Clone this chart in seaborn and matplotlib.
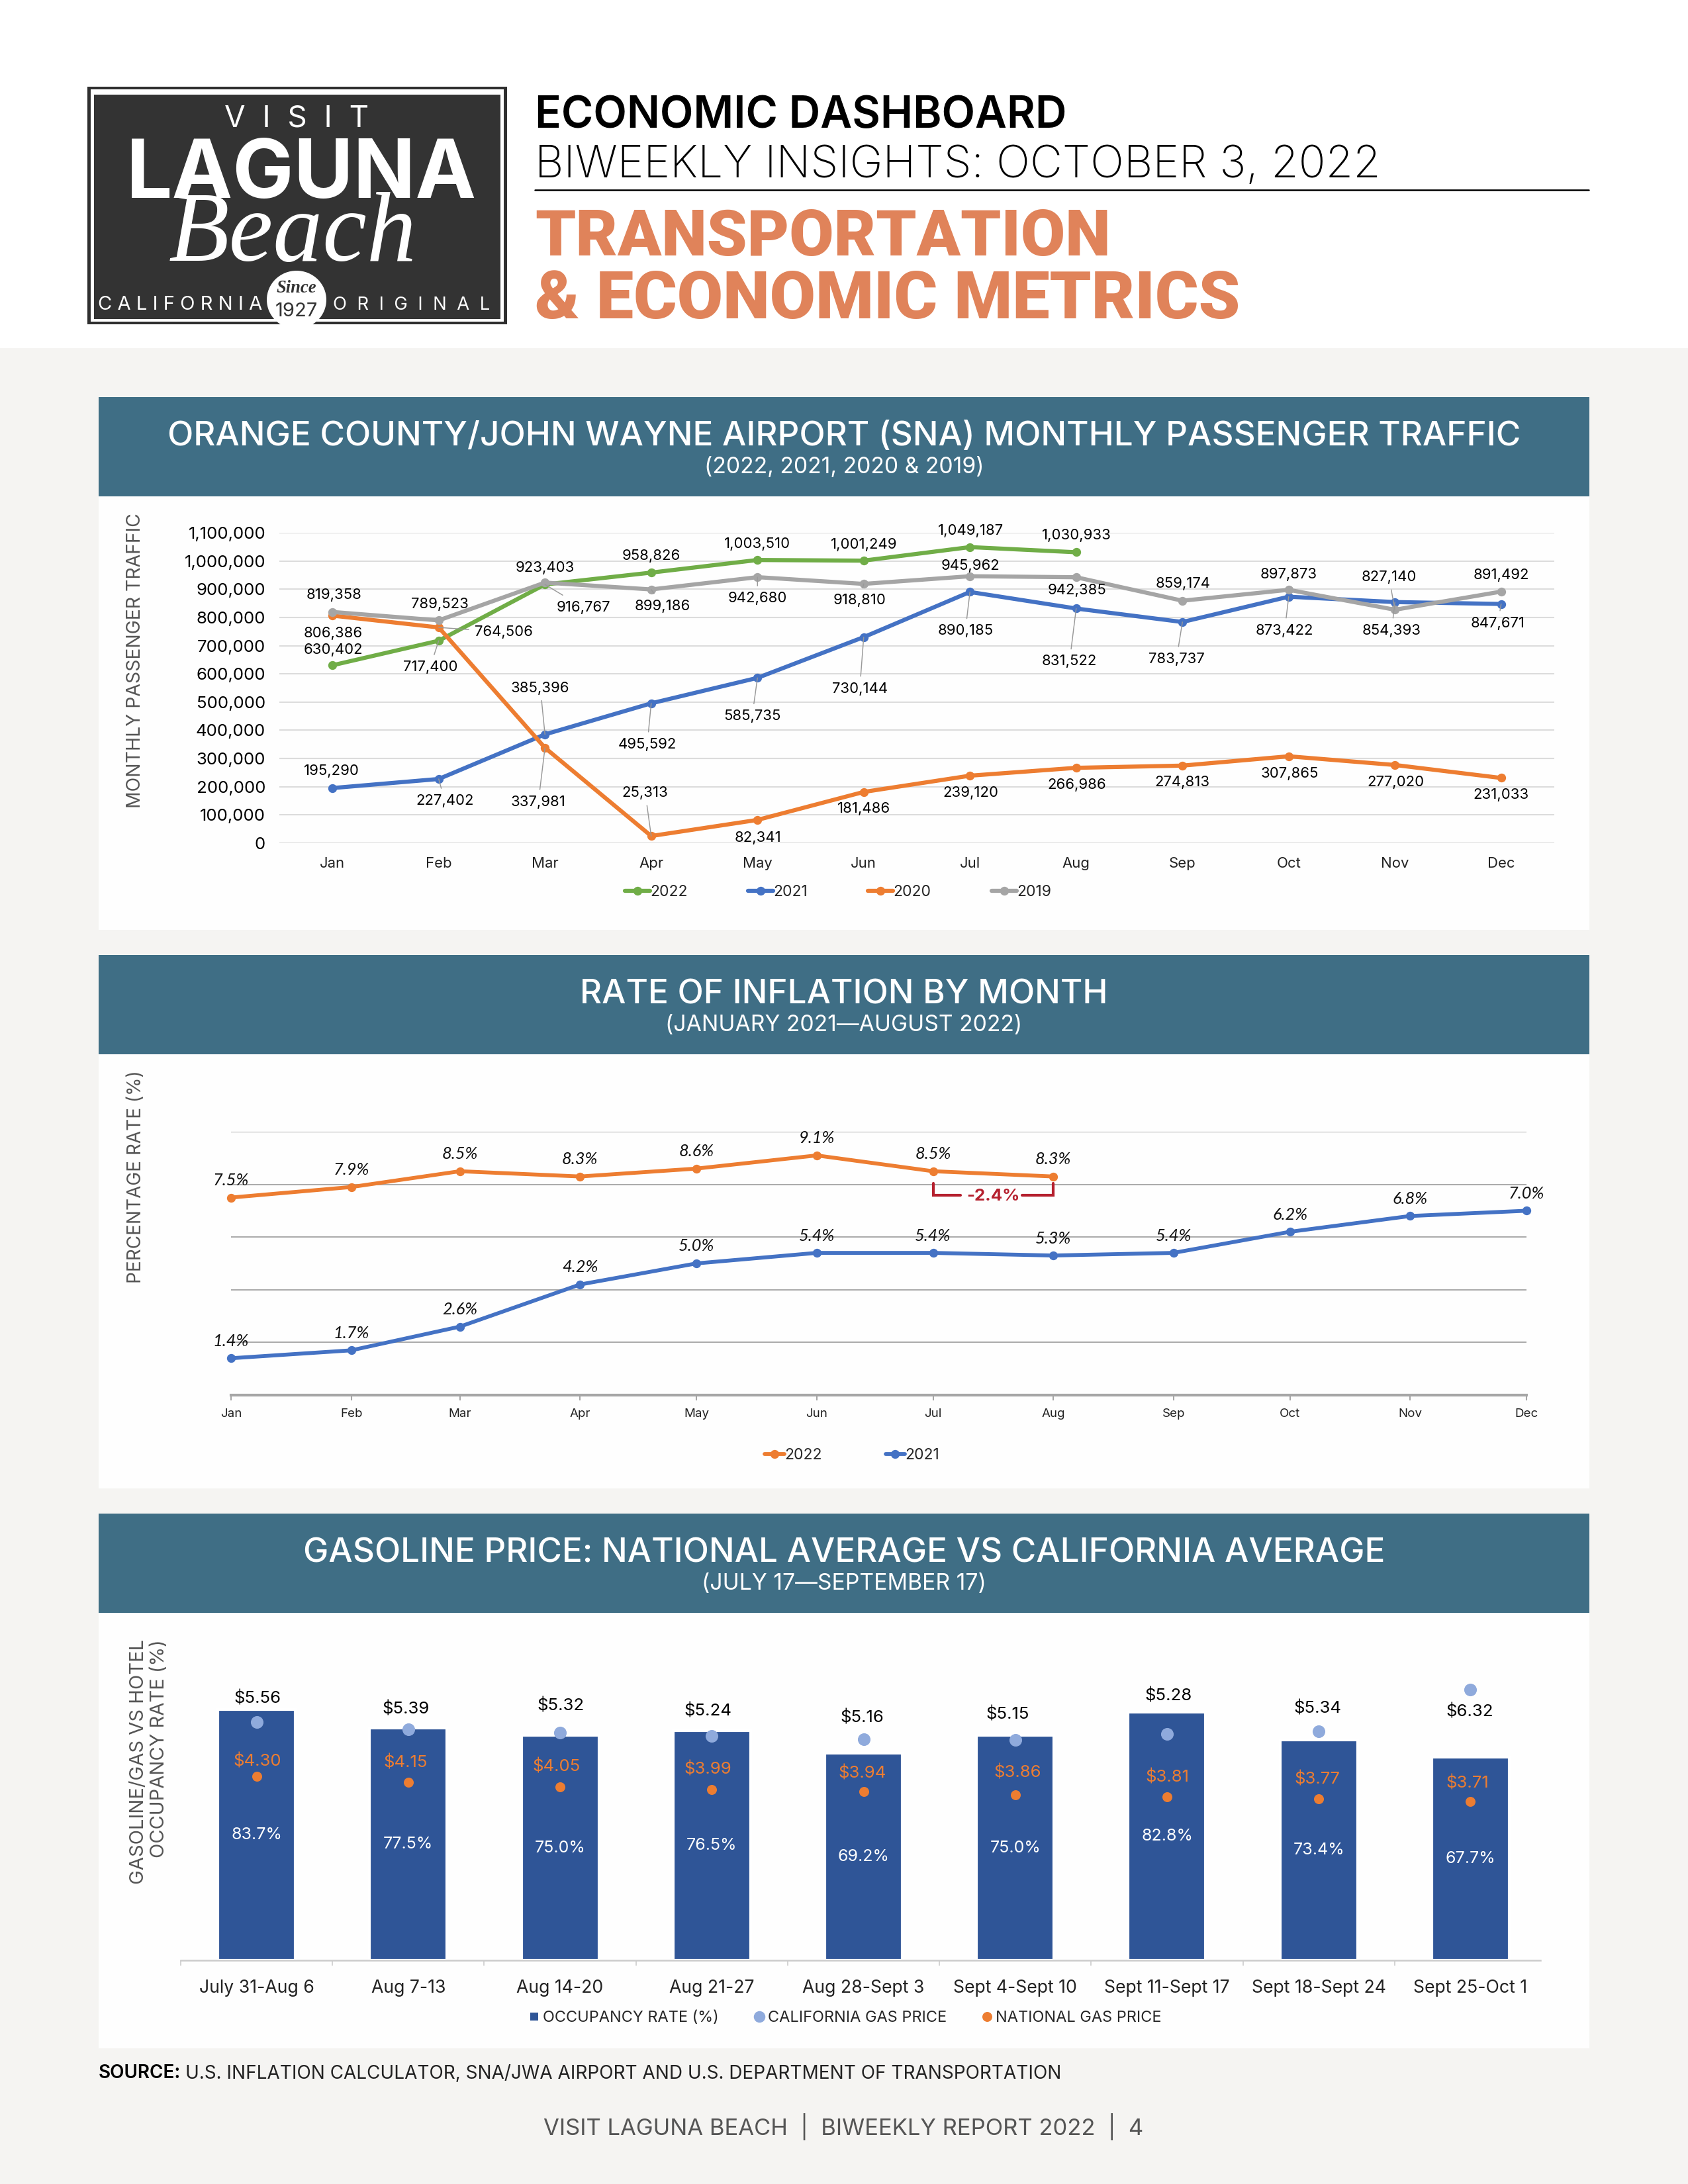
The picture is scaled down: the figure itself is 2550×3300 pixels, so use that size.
import matplotlib
matplotlib.use('Agg')
import matplotlib.pyplot as plt
from matplotlib.lines import Line2D
from matplotlib.patches import Ellipse, Rectangle
import numpy as np
import pandas as pd
import seaborn as sns

# monthly passenger traffic
months = ['Jan', 'Feb', 'Mar', 'Apr', 'May', 'Jun', 'Jul', 'Aug', 'Sep', 'Oct', 'Nov', 'Dec']
traffic_2022 = [630402, 717400, 916767, 958826, 1003510, 1001249, 1049187, 1030933]
traffic_2021 = [195290, 227402, 385396, 495592, 585735, 730144, 890185, 831522, 783737, 873422, 854393, 847671]
traffic_2020 = [806386, 764506, 337981, 25313, 82341, 181486, 239120, 266986, 274813, 307865, 277020, 231033]
traffic_2019 = [819358, 789523, 923403, 899186, 942680, 918810, 945962, 942385, 859174, 897873, 827140, 891492]

# inflation
inflation_2022 = [7.5, 7.9, 8.5, 8.3, 8.6, 9.1, 8.5, 8.3]
inflation_2021 = [1.4, 1.7, 2.6, 4.2, 5.0, 5.4, 5.4, 5.3, 5.4, 6.2, 6.8, 7.0]

# gas and occupancy
weeks = ['July 31-Aug 6', 'Aug 7-13', 'Aug 14-20', 'Aug 21-27', 'Aug 28-Sept 3', 'Sept 4-Sept 10',
         'Sept 11-Sept 17', 'Sept 18-Sept 24', 'Sept 25-Oct 1']
occupancy = [83.7, 77.5, 75.0, 76.5, 69.2, 75.0, 82.8, 73.4, 67.7]
california_gas = [5.56, 5.39, 5.32, 5.24, 5.16, 5.15, 5.28, 5.34, 6.32]
national_gas = [4.30, 4.15, 4.05, 3.99, 3.94, 3.86, 3.81, 3.77, 3.71]

# label offsets from the points, in pixels (dx, dy up), last value 1 = leader line
offsets_2022 = [(1, 23, 0), (-13, -40, 1), (58, -35, 1), (0, 25, 0), (0, 24, 0), (0, 24, 0), (1, 25, 0), (1, 25, 0)]
offsets_2021 = [(-1, 26, 0), (9, -33, 1), (-7, 70, 1), (-6, -62, 1), (-8, -58, 1), (-6, -78, 1), (-7, -59, 1),
                (-10, -80, 1), (-9, -56, 1), (-6, -51, 1), (-5, -43, 1), (-5, -29, 1)]
offsets_2020 = [(1, -27, 0), (98, -7, 1), (-10, -82, 1), (-9, 65, 1), (1, -27, 0), (0, -25, 0), (1, -26, 0),
                (1, -26, 0), (0, -25, 0), (2, -26, 0), (1, -26, 0), (0, -26, 0)]
offsets_2019 = [(2, 26, 0), (2, 24, 0), (0, 22, 0), (17, -25, 1), (0, -32, 1), (-6, -25, 1), (1, 16, 0),
                (1, -20, 0), (1, 26, 0), (0, 23, 0), (-9, 49, 1), (0, 25, 0)]
california_offsets = [(1, 36), (-4, 31), (1, 40), (-6, 37), (-2, 33), (-12, 38), (2, 58), (-2, 35), (-1, -33)]
national_offsets = [(1, 22), (-4, 30), (-5, 30), (-6, 30), (-2, 28), (4, 34), (0, 30), (-2, 30), (-5, 27)]

GREEN, BLUE, ORANGE, GRAY = '#70AD47', '#4472C4', '#ED7D31', '#A5A5A5'
BANNER = '#3F6E85'
PAPER = '#F5F4F2'
PANEL = '#FEFEFE'
FONT = 'Inter'
W, H = 2550, 3300

sns.set_theme(style='white')
plt.rcParams['font.family'] = [FONT, 'DejaVu Sans']

fig = plt.figure(figsize=(8.5, 11), dpi=300, facecolor='white')


def fx(x):
    return x / W


def fy(y):
    return 1 - y / H


def axes_px(left, top, right, bottom):
    ax = fig.add_axes([fx(left), fy(bottom), (right - left) / W, (bottom - top) / H])
    ax.patch.set_alpha(0)
    return ax


def box(left, top, right, bottom, color, zorder=0):
    fig.add_artist(Rectangle((fx(left), fy(bottom)), (right - left) / W, (bottom - top) / H,
                             transform=fig.transFigure, facecolor=color, edgecolor='none', zorder=zorder))


def label(x, y, s, size, color='black', ha='center', weight='normal', zorder=5, **kw):
    return fig.text(fx(x), fy(y), s, fontsize=size, color=color, ha=ha, va='center',
                    fontweight=weight, zorder=zorder, **kw)


def place_ylabel(ax, s, x, y, size, **kw):
    ax.set_ylabel(s, fontsize=size, color='#555555', va='center', **kw)
    ax.yaxis.set_label_coords(fx(x), fy(y), transform=fig.transFigure)


def banner(top, title, subtitle, title_size=12.3):
    box(149, top, 2401, top + 150, BANNER, zorder=2)
    label(1275, top + 60, title, title_size, color='white', weight='medium')
    label(1275, top + 106, subtitle, 8.1, color='white')


# page background
box(0, 526, W, H, PAPER)
box(149, 750, 2401, 1405, PANEL, zorder=1)
box(149, 1593, 2401, 2249, PANEL, zorder=1)
box(149, 2436, 2401, 3095, PANEL, zorder=1)

# logo
box(132, 131, 766, 490, '#2F2F2F', zorder=2)
box(137, 135, 761, 486, 'white', zorder=2)
box(142, 143, 756, 482, '#333333', zorder=2)
fig.add_artist(Ellipse((fx(448), fy(453)), 90 / W, 88 / H, transform=fig.transFigure,
                       facecolor='white', edgecolor='none', zorder=3))
box(132, 490, 766, 500, 'white', zorder=3)
label(448, 180, 'V  I  S  I  T', 11, color='white', zorder=4)
label(455, 266, 'LAGUNA', 29.5, color='white', weight='bold', zorder=4)
label(442, 358, 'Beach', 36, color='white', family='Liberation Serif', style='italic', zorder=4)
label(272, 461, 'C A L I F O R N I A', 7, color='white', zorder=4)
label(622, 461, 'O  R  I  G  I  N  A  L', 6.6, color='white', zorder=4)
label(448, 436, 'Since', 6.4, color='#333333', family='Liberation Serif', style='italic', weight='bold', zorder=4)
label(448, 470, '1927', 7, color='#333333', zorder=4)

# header
label(808, 176, 'ECONOMIC DASHBOARD', 15.8, ha='left', weight='semibold')
label(808, 250, 'BIWEEKLY INSIGHTS: OCTOBER 3, 2022', 16.2, ha='left', weight='light')
fig.add_artist(Line2D([fx(808), fx(2400)], [fy(287), fy(287)], color='black', lw=0.6, zorder=3))
label(808, 360, 'TRANSPORTATION', 23.4, color='#E0835A', ha='left', weight='black', family='Roboto')
label(808, 454, '& ECONOMIC METRICS', 24.1, color='#E0835A', ha='left', weight='black', family='Roboto')

banner(600, 'ORANGE COUNTY/JOHN WAYNE AIRPORT (SNA) MONTHLY PASSENGER TRAFFIC', '(2022, 2021, 2020 & 2019)')
banner(1443, 'RATE OF INFLATION BY MONTH', '(JANUARY 2021\u2014AUGUST 2022)')
banner(2287, 'GASOLINE PRICE: NATIONAL AVERAGE VS CALIFORNIA AVERAGE', '(JULY 17\u2014SEPTEMBER 17)')

# ---- passenger traffic
traffic = {'2022': traffic_2022, '2021': traffic_2021, '2020': traffic_2020, '2019': traffic_2019}
traffic_offsets = {'2022': offsets_2022, '2021': offsets_2021, '2020': offsets_2020, '2019': offsets_2019}
traffic_df = pd.DataFrame([(months[i], year, v) for year, vals in traffic.items() for i, v in enumerate(vals)],
                          columns=['month', 'year', 'passengers'])

ax1 = axes_px(422, 805, 2348, 1274)
ax1.set_zorder(3)
sns.lineplot(data=traffic_df, x='month', y='passengers', hue='year', hue_order=list(traffic),
             palette=[GREEN, BLUE, ORANGE, GRAY], marker='o', markersize=3.2, markeredgewidth=0,
             linewidth=1.5, sort=False, errorbar=None, ax=ax1)
ax1.set_xlim(-0.5, 11.5)
ax1.set_ylim(0, 1100000)
ax1.set_yticks(range(0, 1100001, 100000))
ax1.yaxis.set_major_formatter(lambda v, pos: f'{int(v):,}')
ax1.grid(axis='y', color='#DCDCDC', lw=0.5)
ax1.set_axisbelow(True)
ax1.tick_params(axis='y', length=0, pad=5, labelsize=6.2, labelcolor='black')
ax1.tick_params(axis='x', length=0, pad=5, labelsize=5.3, labelcolor='#222222')
ax1.set_xlabel('')
sns.despine(ax=ax1, left=True, bottom=True)
place_ylabel(ax1, 'MONTHLY PASSENGER TRAFFIC', 205, 998, 6.8)
sns.move_legend(ax1, 'center', bbox_to_anchor=(fx(1266), fy(1348)), bbox_transform=fig.transFigure, ncol=4,
                frameon=False, title=None, fontsize=5.5, handlelength=1.65, handletextpad=0, columnspacing=4)

for year, vals in traffic.items():
    for i, v in enumerate(vals):
        dx, dy, leader = traffic_offsets[year][i]
        arrow = dict(arrowstyle='-', color='#999999', lw=0.35, shrinkA=0, shrinkB=0) if leader else None
        ax1.annotate(f'{v:,}', (i, v), xytext=(dx, dy), textcoords='offset pixels', ha='center', va='center',
                     fontsize=5.3, color='black', arrowprops=arrow)

# ---- inflation
month_dates = pd.date_range('2022-01-01', periods=12, freq='MS')
inflation_df = pd.concat([
    pd.DataFrame({'date': month_dates[:len(inflation_2022)], 'rate': inflation_2022, 'year': '2022'}),
    pd.DataFrame({'date': month_dates, 'rate': inflation_2021, 'year': '2021'}),
])

ax2 = axes_px(349, 1710, 2306, 2108)
ax2.set_zorder(3)
sns.lineplot(data=inflation_df, x='date', y='rate', hue='year', hue_order=['2022', '2021'],
             palette=[ORANGE, BLUE], marker='o', markersize=3.2, markeredgewidth=0, linewidth=1.4,
             errorbar=None, ax=ax2)
for line in ax2.lines:
    line.set_clip_on(False)
ax2.set_xlim(month_dates[0], month_dates[-1])
ax2.set_ylim(0, 10)
ax2.set_yticks(range(2, 11, 2))
ax2.set_xticks(month_dates)
ax2.set_xticklabels(months)
ax2.grid(axis='y', color='#A6A6A6', lw=0.45)
ax2.set_axisbelow(True)
ax2.tick_params(axis='y', length=0, labelleft=False)
ax2.tick_params(axis='x', length=1.8, width=0.5, color='#A6A6A6', pad=3, labelsize=4.5, labelcolor='#222222', bottom=True)
ax2.set_xlabel('')
sns.despine(ax=ax2, left=True)
ax2.spines['bottom'].set_color('#A6A6A6')
ax2.spines['bottom'].set_linewidth(1)
place_ylabel(ax2, 'PERCENTAGE RATE (%)', 205, 1778, 6.7)
sns.move_legend(ax2, 'center', bbox_to_anchor=(fx(1287), fy(2199)), bbox_transform=fig.transFigure, ncol=2,
                frameon=False, title=None, fontsize=5.5, handlelength=1.3, handletextpad=0, columnspacing=4.2)

for series in (inflation_2022, inflation_2021):
    for d, v in zip(month_dates, series):
        ax2.annotate(f'{v:.1f}%', (d, v), xytext=(0, 26), textcoords='offset pixels', ha='center', va='center',
                     fontsize=6.1, family='Lato', style='italic', color='#111111', annotation_clip=False)

# bracket for the Jul-Aug change
RED = '#B5202E'
jul, aug = month_dates[6], month_dates[7]
ax2.plot([jul, jul, jul + pd.Timedelta(days=7)], [8.04, 7.59, 7.59], color=RED, lw=1, solid_joinstyle='miter')
ax2.plot([aug - pd.Timedelta(days=8), aug, aug], [7.59, 7.59, 8.04], color=RED, lw=1, solid_joinstyle='miter')
ax2.text(jul + (aug - jul) / 2, 7.55, '-2.4%', color=RED, fontsize=6.2, fontweight='bold', ha='center', va='center')

# ---- gas price and occupancy
ax3 = axes_px(273, 2509, 2336, 2962)
ax3.set_zorder(3)
sns.barplot(x=weeks, y=occupancy, color='#2F5597', saturation=1, width=0.51, ax=ax3)
ax3.set_xlim(-0.5, 8.5)
ax3.set_ylim(0, 100)
ax3.bar_label(ax3.containers[0], fmt='%.1f%%', label_type='center', color='white', fontsize=6)
ax3.set_xticks(np.arange(-0.5, 8.5), minor=True)
ax3.tick_params(axis='x', which='minor', length=2, width=0.4, color='#CCCCCC', bottom=True)
ax3.tick_params(axis='x', which='major', length=0, pad=7, labelsize=6.4, labelcolor='#222222')
sns.despine(ax=ax3, left=True)
ax3.spines['bottom'].set_color('#CCCCCC')
ax3.spines['bottom'].set_linewidth(0.6)
ax3.spines['bottom'].set_bounds(-0.5, 8.46)
place_ylabel(ax3, 'GASOLINE/GAS VS HOTEL\nOCCUPANCY RATE (%)', 225, 2662, 7, multialignment='right', linespacing=1.2)

ax3b = ax3.twinx()
ax3b.set_zorder(4)
ax3b.patch.set_alpha(0)
sns.scatterplot(x=weeks, y=california_gas, color='#8FAADC', s=21, linewidth=0, ax=ax3b, clip_on=False, legend=False)
sns.scatterplot(x=weeks, y=national_gas, color=ORANGE, s=13, linewidth=0, ax=ax3b, clip_on=False, legend=False)
ax3b.set_ylim(0, 7)
ax3b.set_ylabel('')
sns.despine(ax=ax3b, left=True, right=True, bottom=True)
# twinx turns the left ticks of the bar axes back on
ax3.tick_params(axis='y', left=False, right=False, labelleft=False, labelright=False)
ax3b.tick_params(axis='y', left=False, right=False, labelleft=False, labelright=False)

for i, (v, off) in enumerate(zip(california_gas, california_offsets)):
    ax3b.annotate(f'${v:.2f}', (i, v), xytext=off, textcoords='offset pixels', ha='center', va='center',
                  fontsize=6.2, color='black', annotation_clip=False)
for i, (v, off) in enumerate(zip(national_gas, national_offsets)):
    ax3b.annotate(f'${v:.2f}', (i, v), xytext=off, textcoords='offset pixels', ha='center', va='center',
                  fontsize=6.2, color=ORANGE, annotation_clip=False)

handles = [Line2D([], [], ls='', marker='s', ms=2.8, mew=0, color='#2F5597'),
           Line2D([], [], ls='', marker='o', ms=4.2, mew=0, color='#8FAADC'),
           Line2D([], [], ls='', marker='o', ms=3.6, mew=0, color=ORANGE)]
ax3b.legend(handles, ['OCCUPANCY RATE (%)', 'CALIFORNIA GAS PRICE', 'NATIONAL GAS PRICE'], loc='center',
            bbox_to_anchor=(fx(1277), fy(3049)), bbox_transform=fig.transFigure, ncol=3, frameon=False,
            fontsize=5.65, handlelength=0.6, handletextpad=0.25, columnspacing=2.3)

# source and footer
label(149, 3133, 'SOURCE:', 6.7, ha='left', weight='semibold')
label(280, 3133, 'U.S. INFLATION CALCULATOR, SNA/JWA AIRPORT AND U.S. DEPARTMENT OF TRANSPORTATION', 6.7, ha='left', color='#222222')
label(1274, 3213, 'VISIT LAGUNA BEACH  |  BIWEEKLY REPORT 2022  |  4', 8.3, color='#555555')

fig.savefig('out.png', dpi=300, facecolor='white')
